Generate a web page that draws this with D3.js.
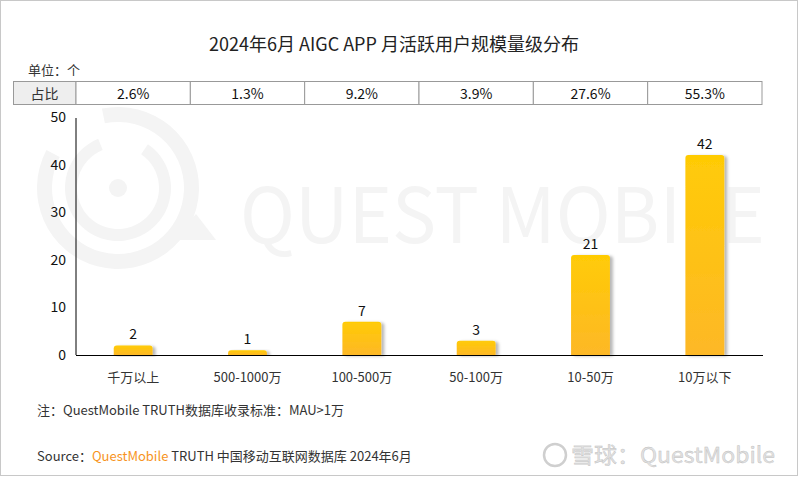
<!DOCTYPE html>
<html><head><meta charset="utf-8">
<script src="https://cdn.jsdelivr.net/npm/d3@7/dist/d3.min.js"></script>
<style>body{margin:0;background:#fff}svg{display:block}text{font-family:"Noto Sans CJK SC","Liberation Sans",Arial,sans-serif}</style>
</head><body>
<svg id="c" width="800" height="477"></svg>
<script>
const categories = ["千万以上","500-1000万","100-500万","50-100万","10-50万","10万以下"];
const values = [2,1,7,3,21,42];
const shares = ["2.6%","1.3%","9.2%","3.9%","27.6%","55.3%"];
const yTicks = [0,10,20,30,40,50];

const svg = d3.select("#c");
const x0=76,x1=762,yTop=117,yBot=355;
const x = d3.scaleBand().domain(categories).range([x0,x1]).paddingInner(0.66).paddingOuter(0.33);
const xb = d3.scaleBand().domain(categories).range([x0,x1]);
const y = d3.scaleLinear().domain([0,50]).range([yBot,yTop]);

const defs = svg.append("defs");
const g = defs.append("linearGradient").attr("id","bg").attr("x1",0).attr("y1",0).attr("x2",0).attr("y2",1);
g.append("stop").attr("offset","0%").attr("stop-color","#FFCB05");
g.append("stop").attr("offset","100%").attr("stop-color","#FDB827");
const f = defs.append("filter").attr("id","sh").attr("x","-20%").attr("y","-20%").attr("width","150%").attr("height","140%");
f.append("feDropShadow").attr("dx",3).attr("dy",1).attr("stdDeviation",1.6).attr("flood-color","#000").attr("flood-opacity",0.28);

// frame
svg.append("rect").attr("x",0.5).attr("y",0.5).attr("width",797).attr("height",475).attr("fill","#fff").attr("stroke","#c8c8c8");

// watermark logo
const wmc = "#f4f4f4";
const cx=118, cy=188;
const arc = d3.arc();
svg.append("path").attr("transform",`translate(${cx},${cy})`).attr("fill",wmc)
  .attr("d",arc({innerRadius:66,outerRadius:81,startAngle:-0.2,endAngle:5.2}));
svg.append("path").attr("transform",`translate(${cx},${cy})`).attr("fill",wmc)
  .attr("d",arc({innerRadius:41,outerRadius:53,startAngle:0.6,endAngle:5.9}));
svg.append("circle").attr("cx",cx).attr("cy",cy).attr("r",9).attr("fill",wmc);
svg.append("path").attr("fill",wmc).attr("d",`M${cx+55},${cy+52} L${cx+98},${cy+52} L${cx+78},${cy+26} Z`);
svg.append("text").attr("x",240).attr("y",243).attr("font-size",76).attr("fill",wmc)
  .attr("font-family","'Open Sans','Liberation Sans',sans-serif").attr("textLength",525).attr("lengthAdjust","spacingAndGlyphs")
  .text("QUEST MOBILE");

// title
svg.append("text").attr("x",394).attr("y",51).attr("text-anchor","middle").attr("font-size",18).attr("fill","#222")
  .text("2024年6月 AIGC APP 月活跃用户规模量级分布");
svg.append("text").attr("x",28).attr("y",75).attr("font-size",13).attr("fill","#333").text("单位：个");

// table row
const tY=81.5,tH=23;
svg.append("rect").attr("x",13.5).attr("y",tY).attr("width",x0-13.5).attr("height",tH).attr("fill","#eeeeee").attr("stroke","#999");
svg.append("text").attr("x",(13+x0)/2).attr("y",tY+17).attr("text-anchor","middle").attr("font-size",14).attr("fill","#333").text("占比");
svg.selectAll(".cell").data(categories).join("rect").attr("x",d=>xb(d)).attr("y",tY).attr("width",xb.bandwidth()).attr("height",tH)
  .attr("fill","#fff").attr("stroke","#999");
svg.selectAll(".ct").data(categories).join("text").attr("x",d=>xb(d)+xb.bandwidth()/2).attr("y",tY+17).attr("text-anchor","middle")
  .attr("font-family","'Liberation Sans',Arial,sans-serif").attr("font-size",14).attr("fill","#111").text((d,i)=>shares[i]);

// y axis labels
svg.selectAll(".yl").data(yTicks).join("text").attr("x",66).attr("y",d=>y(d)+5).attr("text-anchor","end")
  .attr("font-family","'Liberation Sans',Arial,sans-serif").attr("font-size",14).attr("fill","#111").text(d=>d);

// bars
const r=3;
svg.selectAll(".bar").data(values).join("path").attr("fill","url(#bg)").attr("filter","url(#sh)")
  .attr("d",(d,i)=>{const bx=x(categories[i]),bw=x.bandwidth(),t=y(d),b=yBot;
    return `M${bx},${b} L${bx},${t+r} Q${bx},${t} ${bx+r},${t} L${bx+bw-r},${t} Q${bx+bw},${t} ${bx+bw},${t+r} L${bx+bw},${b} Z`;});
svg.selectAll(".vl").data(values).join("text").attr("x",(d,i)=>x(categories[i])+x.bandwidth()/2).attr("y",d=>y(d)-6)
  .attr("text-anchor","middle").attr("font-family","'Liberation Sans',Arial,sans-serif").attr("font-size",14).attr("fill","#111").text(d=>d);

// axes lines
svg.append("line").attr("x1",x0).attr("x2",x0).attr("y1",yTop+1).attr("y2",yBot).attr("stroke","#000");
svg.append("line").attr("x1",x0).attr("x2",x1+1).attr("y1",yBot+0.5).attr("y2",yBot+0.5).attr("stroke","#000");

// x labels
svg.selectAll(".xl").data(categories).join("text").attr("x",d=>xb(d)+xb.bandwidth()/2).attr("y",382).attr("text-anchor","middle")
  .attr("font-size",13).attr("fill","#333").text(d=>d);

// notes
svg.append("text").attr("x",37).attr("y",415).attr("font-size",13).attr("fill","#333").text("注：QuestMobile TRUTH数据库收录标准：MAU>1万");
const s = svg.append("text").attr("x",37).attr("y",461).attr("font-size",13).attr("fill","#333");
s.append("tspan").text("Source：");
s.append("tspan").attr("fill","#F7941D").text("QuestMobile");
s.append("tspan").text(" TRUTH 中国移动互联网数据库 2024年6月");

// xueqiu watermark
svg.append("circle").attr("cx",555).attr("cy",455).attr("r",11).attr("fill","none").attr("stroke","#cfcfcf").attr("stroke-width",2.5);
svg.append("text").attr("x",571).attr("y",463).attr("font-size",22).attr("fill","#e2e2e2").attr("stroke","#bdbdbd").attr("stroke-width",0.4)
  .attr("textLength",204).attr("lengthAdjust","spacingAndGlyphs").text("雪球：QuestMobile");
</script>
</body></html>
